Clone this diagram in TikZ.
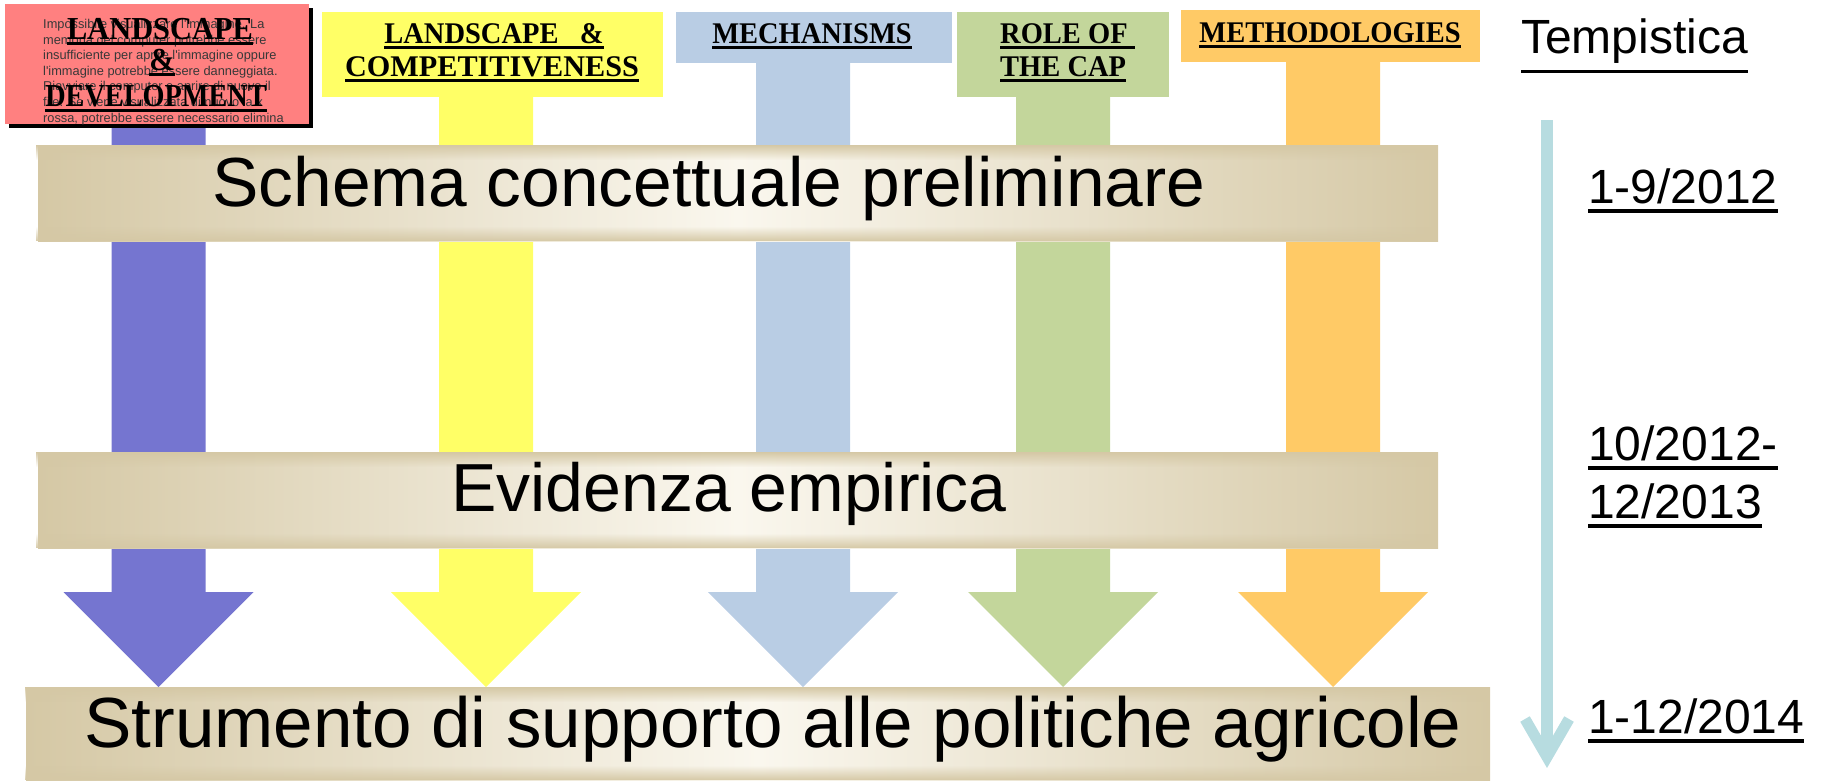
\documentclass[tikz,border=0pt]{standalone}
\usepackage{fontspec}
\setmainfont{Liberation Sans}
\newfontfamily\hfont[FakeStretch=0.95]{Liberation Serif}
\newfontfamily\sfont{Liberation Sans}
\usetikzlibrary{calc,fadings}
\pgfdeclarelayer{bg}
\pgfsetlayers{bg,main}

\definecolor{cRed}{RGB}{255,128,128}
\definecolor{cBlue}{RGB}{117,117,208}
\definecolor{cYel}{RGB}{255,255,102}
\definecolor{cLb}{RGB}{185,205,228}
\definecolor{cGr}{RGB}{195,214,155}
\definecolor{cOr}{RGB}{255,202,102}
\definecolor{cTl}{RGB}{183,220,224}
\definecolor{cTan}{RGB}{213,200,165}
\definecolor{cCream}{RGB}{250,247,238}

\newcommand\hul[1]{\leavevmode\vtop{\hbox{#1}\kern3pt\hrule height 3pt}}
\newcommand\dul[1]{\leavevmode\vtop{\hbox{#1}\kern6pt\hrule height 4pt}}
\newcommand\tul[1]{\leavevmode\vtop{\hbox{#1}\kern7pt\hrule height 3.5pt}}

\newcommand\bigarrow[3]{%
  \coordinate (#2top) at (#3 |- #2.south);
  \fill[#1] ($(#2top)+(-47,-2)$) -- ($(#2top)+(47,-2)$) -- ($(#3)+(47,-95)$)
    -- ($(#3)+(95,-95)$) -- (#3) -- ($(#3)+(-95,-95)$) -- ($(#3)+(-47,-95)$) -- cycle;}

\tikzset{
  hbox/.style={inner sep=0pt, anchor=north west},
  htxt/.style={inner sep=0pt, font=\hfont\bfseries\fontsize{30}{36}\selectfont},
  rtxt/.style={inner sep=0pt, font=\hfont\bfseries\fontsize{32}{38}\selectfont},
  banner/.style={inner sep=0pt, anchor=north west, left color=cTan, right color=cTan, middle color=cCream},
  btext/.style={inner sep=0pt, anchor=base},
  dt/.style={inner sep=0pt, anchor=base west, font=\sfont\fontsize{48}{56}\selectfont},
  errtxt/.style={inner sep=0pt, align=left, text=black!78, font=\sfont\fontsize{12.8}{15.6}\selectfont},
  tline/.style={draw=cTl, line width=12pt},
}

\begin{document}
\begin{tikzpicture}[x=1pt,y=-1pt]
\useasboundingbox (0,0) rectangle (1825,780);

% header boxes
\fill[black] (9,8) rectangle (313,128);
\node[hbox, fill=cRed, minimum width=304pt, minimum height=120pt] (h1) at (5,4) {};
\node[hbox, fill=cYel, minimum width=341pt, minimum height=85pt] (h2) at (322,12) {};
\node[hbox, fill=cLb, minimum width=276pt, minimum height=51pt] (h3) at (676,12) {};
\node[hbox, fill=cGr, minimum width=212pt, minimum height=85pt] (h4) at (957,12) {};
\node[hbox, fill=cOr, minimum width=299pt, minimum height=52pt] (h5) at (1181,10) {};

% banners
\node[banner, minimum width=1400pt, minimum height=96pt] (b1) at (38,145) {};
\node[banner, minimum width=1400pt, minimum height=96pt] (b2) at (38,452) {};
\node[banner, minimum width=1464pt, minimum height=93pt] (b3) at (26,687) {};
\foreach \b in {b1,b2,b3}{
  \fill[cTan, path fading=south] (\b.north west) rectangle ($(\b.north east)+(0,15)$);
  \fill[cTan, path fading=north] ($(\b.south west)+(0,-15)$) rectangle (\b.south east);
}

% arrow tips
\coordinate (tip1) at (158.5,687);
\coordinate (tip2) at (486,687);
\coordinate (tip3) at (803,687);
\coordinate (tip4) at (1063,687);
\coordinate (tip5) at (1333,687);
\begin{pgfonlayer}{bg}
\bigarrow{cYel}{h2}{tip2}
\bigarrow{cBlue}{h1}{tip1}
\bigarrow{cLb}{h3}{tip3}
\bigarrow{cGr}{h4}{tip4}
\bigarrow{cOr}{h5}{tip5}
\end{pgfonlayer}

% placeholder text in red box
\begin{scope}
\clip (h1.north west) rectangle (h1.south east);
\node[errtxt, anchor=north west] (err) at (43,19) {Impossibile visualizzare l'immagine. La\\
memoria del computer potrebbe essere\\
insufficiente per aprire l'immagine oppure\\
l'immagine potrebbe essere danneggiata.\\
Riavviare il computer e aprire di nuovo il\\
file. Se viene visualizzata di nuovo la x\\
rossa, potrebbe essere necessario elimina};
\end{scope}

% header texts
\node[rtxt, anchor=base] (h1a) at (160,39) {\hul{LANDSCAPE}};
\node[rtxt, anchor=base] (h1b) at (162,70) {\hul{\&}};
\node[rtxt, anchor=base] (h1c) at (156,106) {\hul{\scalebox{0.93}[1]{DEVELOPMENT}}};
\node[htxt, anchor=base] (h2a) at (494,43) {\hul{LANDSCAPE\ \ \ \&}};
\node[htxt, anchor=base] (h2b) at (492,76) {\hul{\scalebox{1.06}[1]{COMPETITIVENESS}}};
\node[htxt, anchor=base] (h3a) at (812,43) {\hul{MECHANISMS}};
\node[htxt, anchor=base west] (h4a) at (1000,43) {\hul{ROLE OF\ }};
\node[htxt, anchor=base west] (h4b) at (1000,76) {\hul{THE CAP}};
\node[htxt, anchor=base] (h5a) at (1330,42) {\hul{METHODOLOGIES}};

% banner texts
\node[btext, font=\sfont\fontsize{69.5}{80}\selectfont] (b1t) at (709,206) {Schema concettuale preliminare};
\node[btext, font=\sfont\fontsize{68}{80}\selectfont] (b2t) at (729,511) {Evidenza empirica};
\node[btext, font=\sfont\fontsize{71}{80}\selectfont] (b3t) at (773,747) {Strumento di supporto alle politiche agricole};

% timeline
\coordinate (tl0) at (1547,120);
\coordinate (tl1) at (1547,757);
\draw[tline] (tl0) -- (tl1);
\draw[tline, line width=11pt, line join=miter, miter limit=10] ($(tl1)+(-22,-38)$) -- (tl1) -- ($(tl1)+(22,-38)$);

% dates
\node[dt] (tmp) at (1521,53) {\tul{Tempistica}};
\node[dt] (d1) at (1588,203) {\dul{1-9/2012}};
\node[dt] (d2) at (1588,460) {\dul{10/2012-}};
\node[dt] (d3) at (1588,518) {\dul{12/2013}};
\node[dt] (d4) at (1588,733) {\dul{1-12/2014}};
\end{tikzpicture}
\end{document}
